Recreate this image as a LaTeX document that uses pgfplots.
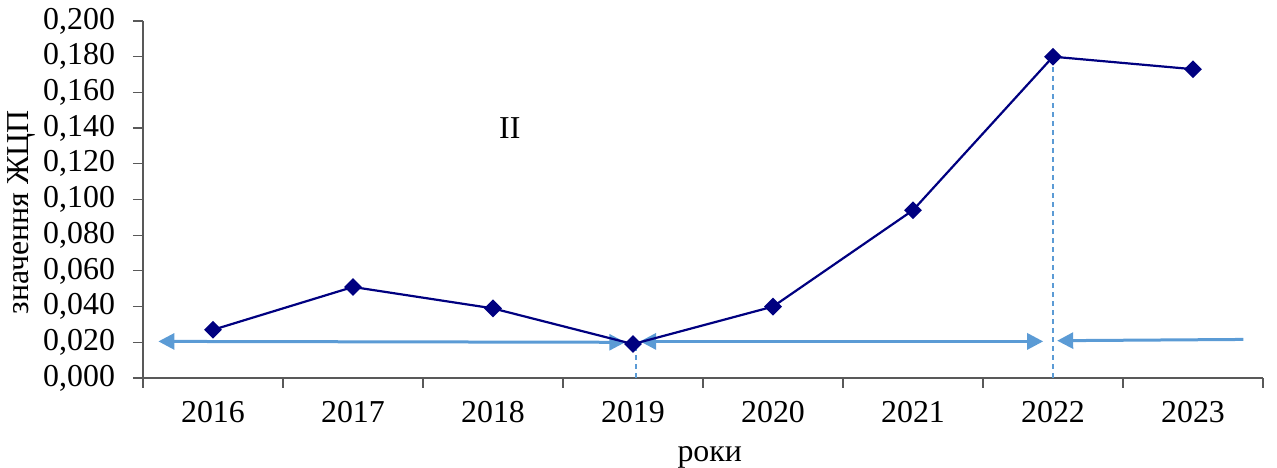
\documentclass[border=0pt]{standalone}
\usepackage{fontspec}
\setmainfont{Liberation Serif}
\usepackage{pgfplots}
\pgfplotsset{compat=1.18}
\usetikzlibrary{arrows.meta}
\definecolor{navy}{HTML}{000080}
\definecolor{lblue}{HTML}{5B9BD5}
\definecolor{axgray}{HTML}{595959}
\newcommand{\cf}{\fontsize{16}{19}\selectfont}
\begin{document}
\begin{tikzpicture}
\useasboundingbox (-71.5bp,-45bp) rectangle (567bp,189bp);
\begin{axis}[
  at={(0,0)}, anchor=south west,
  scale only axis, width=560bp, height=178.5bp,
  xmin=-0.5, xmax=7.5, ymin=0, ymax=0.2,
  clip=false,
  axis lines*=left,
  axis line style={axgray, line width=0.6bp},
  every tick/.style={axgray, line width=0.6bp},
  tick align=outside,
  major tick length=5bp,
  xtick={-0.5,0.5,1.5,2.5,3.5,4.5,5.5,6.5,7.5},
  xticklabels={},
  extra x ticks={0,1,2,3,4,5,6,7},
  extra x tick labels={2016,2017,2018,2019,2020,2021,2022,2023},
  extra x tick style={major tick length=0pt},
  ytick={0,0.02,0.04,0.06,0.08,0.1,0.12,0.14,0.16,0.18,0.2},
  scaled y ticks=false,
  yticklabel style={xshift=-5.5bp, /pgf/number format/.cd, fixed, fixed zerofill, precision=3, use comma, assume math mode=true},
  every tick label/.append style={font=\cf},
  xticklabel style={yshift=-8bp},
  xlabel={роки},
  ylabel={значення ЖЦП},
  every axis x label/.style={at={(axis description cs:0.506,-0.222)}, anchor=center, font=\cf},
  every axis y label/.style={at={(axis description cs:-0.1085,0.465)}, rotate=90, anchor=center, font=\cf},
]
% arrows
\addplot[lblue, line width=1.5bp, {Triangle[length=8bp,width=8bp]}-{Triangle[length=8bp,width=8bp]}] coordinates {(-0.39,0.0205) (2.945,0.0200)};
\addplot[lblue, line width=1.5bp, {Triangle[length=8bp,width=8bp]}-{Triangle[length=8bp,width=8bp]}] coordinates {(3.05,0.0205) (5.93,0.0205)};
\addplot[lblue, line width=1.5bp, {Triangle[length=8bp,width=8bp]}-] coordinates {(6.03,0.0209) (7.36,0.0216)};
% dashed verticals
\addplot[lblue, line width=0.75bp, dash pattern=on 2.5bp off 2bp] coordinates {(3.02,0) (3.02,0.019)};
\addplot[lblue, line width=0.75bp, dash pattern=on 2.5bp off 2bp] coordinates {(6,0) (6,0.180)};
% series
\addplot[navy, line width=1.1bp, mark=square*, mark size=2.6bp, mark options={rotate=45, fill=navy, draw=navy, solid}] coordinates {
(0,0.027) (1,0.051) (2,0.039) (3,0.019) (4,0.040) (5,0.094) (6,0.180) (7,0.173)};
\node[font=\cf] at (axis cs:2.12,0.140) {II};
\end{axis}
\end{tikzpicture}
\end{document}
